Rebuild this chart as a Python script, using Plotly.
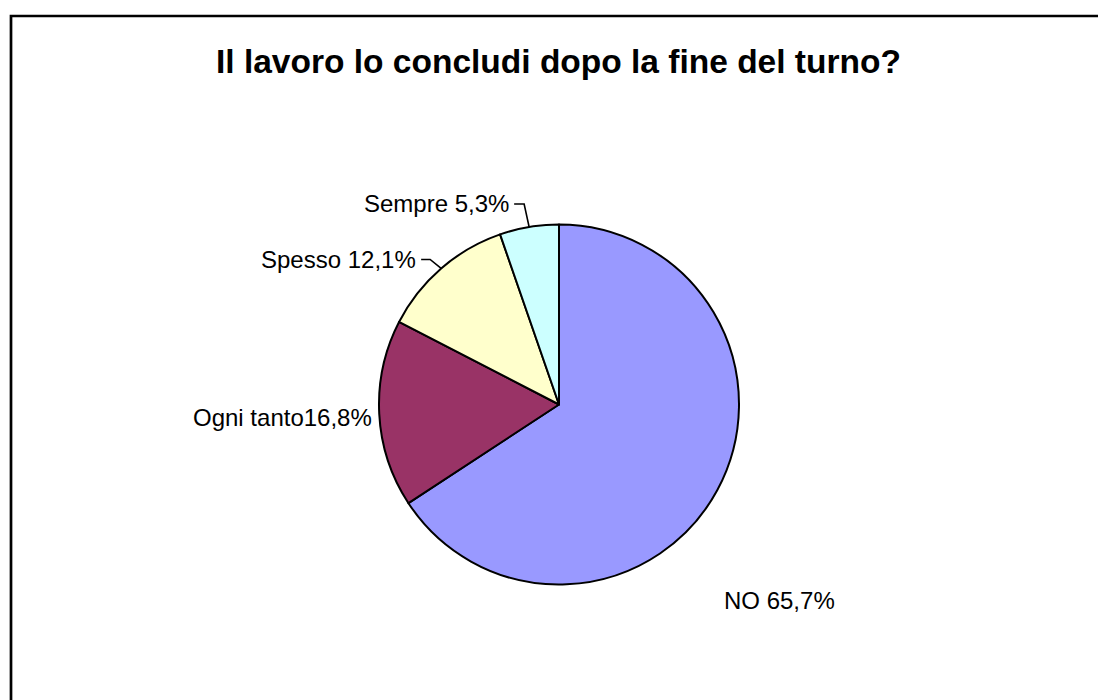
import math
import plotly.graph_objects as go

# ---- data ----
categories = ["NO", "Ogni tanto", "Spesso", "Sempre"]
values = [65.7, 16.8, 12.1, 5.3]
colors = ["#9999FF", "#993366", "#FFFFCC", "#CCFFFF"]
title_text = "Il lavoro lo concludi dopo la fine del turno?"

# ---- layout / style ----
W, H = 1098, 700
CX, CY, R = 559.0, 404.5, 180.0          # pie centre and radius in px
FONT = "Liberation Sans, Arial, sans-serif"
LABEL_SIZE = 24
# per-label placement: separator between name and value, elbow offset from edge,
# text offset from elbow (or from edge if no leader), anchor
label_style = {
    "NO":         {"sep": " ", "elbow": None,      "text": (5, 110),  "anchor": "left"},
    "Ogni tanto": {"sep": "",  "elbow": None,      "text": (-5, 4),   "anchor": "right"},
    "Spesso":     {"sep": " ", "elbow": (-11, -9), "text": (-12, 0),  "anchor": "right"},
    "Sempre":     {"sep": " ", "elbow": (-5, -23), "text": (-13, 0),  "anchor": "right"},
}


def px_to_paper(x, y):
    return x / W, 1 - y / H


fig = go.Figure()
fig.add_trace(go.Pie(
    labels=categories,
    values=values,
    sort=False,
    direction="clockwise",
    rotation=0,
    marker=dict(colors=colors, line=dict(color="black", width=2)),
    textinfo="none",
    hoverinfo="label+percent",
    showlegend=False,
    domain=dict(x=[(CX - R) / W, (CX + R) / W], y=[1 - (CY + R) / H, 1 - (CY - R) / H]),
))

total = sum(values)
cum = 0.0
annotations = []
shapes = []
for name, v in zip(categories, values):
    mid = (cum + v / 2) / total * 2 * math.pi
    cum += v
    ex = CX + R * math.sin(mid)
    ey = CY - R * math.cos(mid)
    st = label_style[name]
    if st["elbow"] is not None:
        bx, by = ex + st["elbow"][0], ey + st["elbow"][1]
        tx, ty = bx + st["text"][0], by + st["text"][1]
        p0, p1, p2 = px_to_paper(ex, ey), px_to_paper(bx, by), px_to_paper(tx + 3, by)
        shapes.append(dict(type="path", xref="paper", yref="paper",
                           path=f"M {p0[0]},{p0[1]} L {p1[0]},{p1[1]} L {p2[0]},{p2[1]}",
                           line=dict(color="black", width=1.6)))
    else:
        tx, ty = ex + st["text"][0], ey + st["text"][1]
    txt = f"{name}{st['sep']}{v:.1f}".replace(".", ",") + "%"
    ax_, ay_ = px_to_paper(tx, ty)
    annotations.append(dict(x=ax_, y=ay_, xref="paper", yref="paper", text=txt,
                            showarrow=False, xanchor=st["anchor"], yanchor="middle",
                            font=dict(family=FONT, size=LABEL_SIZE, color="black")))

annotations.append(dict(x=558 / W, y=1 - 61 / H, xref="paper", yref="paper",
                        text=f"<b>{title_text}</b>", showarrow=False,
                        xanchor="center", yanchor="middle",
                        font=dict(family=FONT, size=33.5, color="black")))

# chart-area frame (extends past the right and bottom edges)
shapes.append(dict(type="rect", xref="paper", yref="paper",
                   x0=11 / W, x1=1.02, y0=-0.02, y1=1 - 16 / H,
                   line=dict(color="black", width=2.7), fillcolor="rgba(0,0,0,0)",
                   layer="above"))

fig.update_layout(
    width=W, height=H,
    margin=dict(l=0, r=0, t=0, b=0),
    paper_bgcolor="white", plot_bgcolor="white",
    annotations=annotations, shapes=shapes,
    font=dict(family=FONT),
)

fig.write_html("out.html")
